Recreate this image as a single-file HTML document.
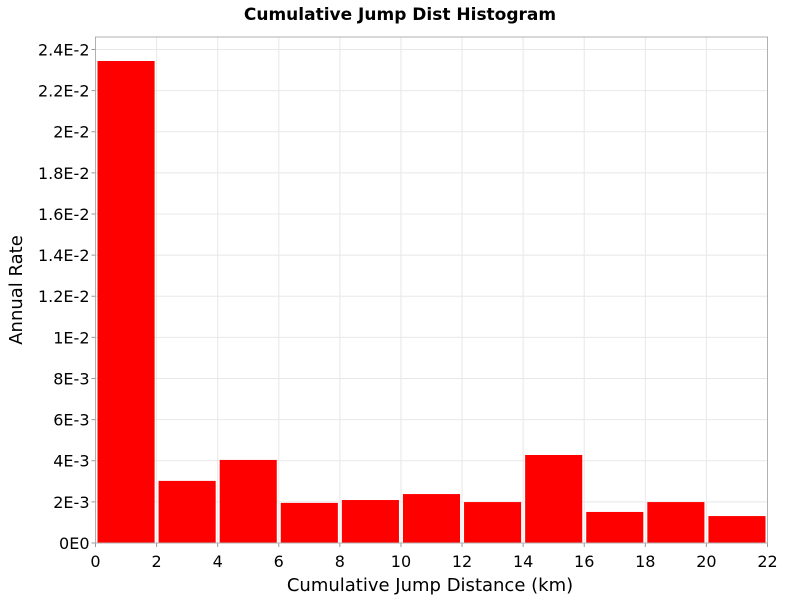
<!DOCTYPE html>
<html><head><meta charset="utf-8"><style>
body{margin:0;background:#fff;font-family:"DejaVu Sans","Liberation Sans",sans-serif;}
svg text{font-family:"DejaVu Sans","Liberation Sans",sans-serif;}
</style></head><body>
<svg id="chart" width="800" height="600">
<text x="400" y="20" text-anchor="middle" font-size="17" font-weight="bold">Cumulative Jump Dist Histogram</text>
<g id="grid"></g><g id="bars"></g><g id="axes"></g>
<text x="430" y="591" text-anchor="middle" font-size="18">Cumulative Jump Distance (km)</text>
<text transform="translate(22,290) rotate(-90)" text-anchor="middle" font-size="18">Annual Rate</text>
</svg>
<script>
const binStarts=[0,2,4,6,8,10,12,14,16,18,20];
const rates=[0.02344,0.00302,0.00404,0.00195,0.00209,0.00238,0.00199,0.00428,0.00151,0.00199,0.00131];
const xTicks=[0,2,4,6,8,10,12,14,16,18,20,22];
const yTicks=[0,0.002,0.004,0.006,0.008,0.010,0.012,0.014,0.016,0.018,0.020,0.022,0.024];
const yTickLabels=["0E0","2E-3","4E-3","6E-3","8E-3","1E-2","1.2E-2","1.4E-2","1.6E-2","1.8E-2","2E-2","2.2E-2","2.4E-2"];
const binWidth=2;
const L=95.5,R=767.5,T=37,B=543;
const xs=v=>L+(v-0)/22*(R-L);
const ys=v=>B-v*20563;
const NS="http://www.w3.org/2000/svg";
function mk(tag,attrs,parent){const e=document.createElementNS(NS,tag);for(const k in attrs)e.setAttribute(k,attrs[k]);parent.appendChild(e);return e;}
const grid=document.getElementById('grid'),bars=document.getElementById('bars'),axes=document.getElementById('axes');
xTicks.forEach(t=>{
 const g=mk('line',{x1:xs(t),x2:xs(t),y1:T,y2:B,stroke:'#e8e8e8'},grid);
 
 
 const tk=mk('line',{x1:xs(t),x2:xs(t),y1:B,y2:B+4,stroke:'#999'},axes);
 
 
 const tx=mk('text',{x:xs(t),y:567,'text-anchor':'middle','font-size':16},axes);
 tx.textContent=t;
 
 
});
yTicks.forEach((t,i)=>{
 const g=mk('line',{x1:L,x2:R,y1:ys(t),y2:ys(t),stroke:'#e8e8e8'},grid);
 
 
 const tk=mk('line',{x1:L-4,x2:L,y1:ys(t),y2:ys(t),stroke:'#999'},axes);
 
 
 const tx=mk('text',{x:L-6,y:ys(t)+6,'text-anchor':'end','font-size':16},axes);
 tx.textContent=yTickLabels[i];
 
 
});
binStarts.forEach((s,i)=>{
 const x0=xs(s)+2,x1=xs(s+binWidth)-2;
 const r=mk('rect',{x:x0,y:ys(rates[i]),width:x1-x0,height:B-ys(rates[i]),fill:'#ff0000'},bars);
 
 
});
const frame=mk('rect',{x:L,y:T,width:R-L,height:B-T,fill:'none',stroke:'#b0b0b0'},axes);


</script>
</body></html>
